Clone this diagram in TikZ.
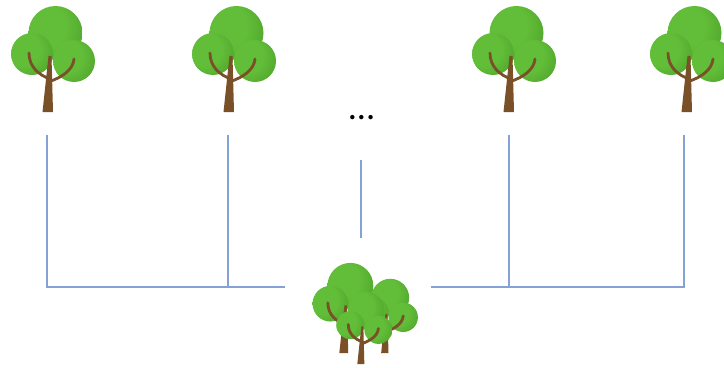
\documentclass[tikz,border=0pt]{standalone}
\usepackage{fontspec}
\setmainfont{Carlito}
\usepackage{tikz}

\definecolor{leafLight}{HTML}{62BE38}
\definecolor{leafMid}{HTML}{4EA22C}
\definecolor{leafDark}{HTML}{387F22}
\definecolor{barkBrown}{HTML}{7A5028}
\definecolor{linkBlue}{HTML}{84A2D6}

% soft crown shading, highlight up and to the left
\pgfdeclareradialshading{crownshade}{\pgfpoint{-14bp}{8bp}}{%
  color(0bp)=(leafLight); color(20bp)=(leafLight);
  color(40bp)=(leafMid); color(56bp)=(leafDark); color(80bp)=(leafDark)}

\tikzset{
  crown/.style={shading=crownshade},
  trunk/.style={fill=barkBrown},
  branch/.style={draw=barkBrown, line width=2.4pt, line cap=round},
  link/.style={draw=linkBlue, line width=0.9pt},
  dotsnode/.style={font=\fontsize{31}{34}\selectfont, inner sep=0pt, anchor=base},
  % one tree, origin at the foot of the trunk
  tree/.pic={
    \shade[crown] (7.5,-79) circle[radius=27];
    \shade[crown] (-16,-58) circle[radius=21];
    \shade[crown] (26,-51) circle[radius=21];
    \fill[trunk] (-5.5,0) -- (5,0) -- (3.5,-56) -- (0.5,-56) -- cycle;
    \draw[branch] (-19,-59) .. controls (-19,-45) and (-9,-37) .. (2,-33);
    \draw[branch] (26,-53) .. controls (25,-42) and (14,-35) .. (3,-31);
  }
}

\begin{document}
\begin{tikzpicture}[x=0.03cm, y=-0.03cm]
  \useasboundingbox (0,0) rectangle (724,368);
  \clip (0,0) rectangle (724,368);

  % single trees on top
  \pic at (48,112) {tree};
  \pic at (229,112) {tree};
  \pic at (509,112) {tree};
  \pic at (687,112) {tree};
  \node[dotsnode] (dots) at (361.5,119) {...};

  % the forest
  \pic[scale=0.7] at (385,353) {tree};
  \pic[scale=0.85] at (344,353) {tree};
  \pic[scale=0.67] at (361,364) {tree};

  % line ends
  \coordinate (t1) at (47,135);
  \coordinate (t2) at (228,135);
  \coordinate (t3) at (509,135);
  \coordinate (t4) at (684,135);
  \coordinate (fw) at (285,287);
  \coordinate (fe) at (431,287);
  \coordinate (dtop) at (361,160);
  \coordinate (ftop) at (361,238);

  \draw[link] (t1) |- (fw);
  \draw[link] (t2) -- (t2 |- fw);
  \draw[link] (t4) |- (fe);
  \draw[link] (t3) -- (t3 |- fe);
  \draw[link] (dtop) -- (ftop);
\end{tikzpicture}
\end{document}
